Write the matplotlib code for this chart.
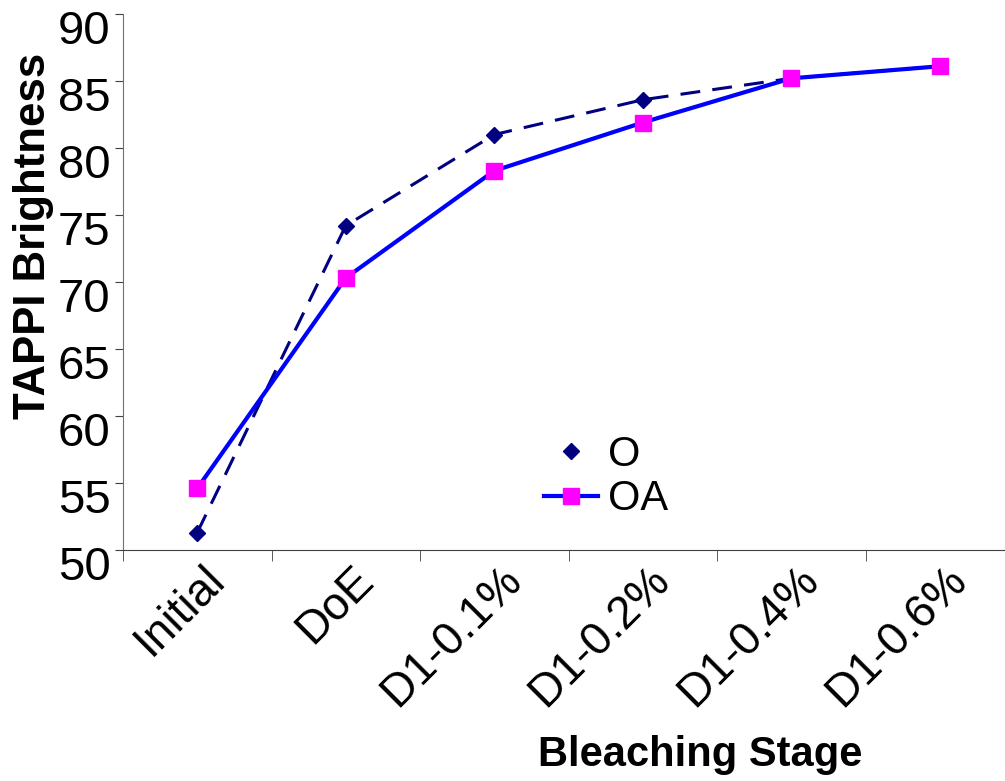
import numpy as np
import matplotlib.pyplot as plt
from matplotlib.lines import Line2D
from matplotlib.transforms import ScaledTranslation

plt.rcParams['font.family'] = ['Liberation Sans', 'DejaVu Sans']

# Data
stages = ['Initial', 'DoE', 'D1-0.1%', 'D1-0.2%', 'D1-0.4%', 'D1-0.6%']
o_vals = [51.3, 74.2, 81.0, 83.6, 85.2, 86.1]
oa_vals = [54.6, 70.3, 78.3, 81.9, 85.2, 86.1]

fig = plt.figure(figsize=(10.05, 7.81), dpi=100)
ax = fig.add_axes([123 / 1005, 1 - 550 / 781, 891 / 1005, 536 / 781])

x = np.arange(len(stages))
ax.plot(x, o_vals, color='#000080', linestyle=(0, (6.5, 4)), linewidth=2.2,
        marker='D', markersize=8, label='O')
ax.plot(x, oa_vals, color='#0000ff', linewidth=3,
        marker='s', markersize=11.5, markerfacecolor='#ff00ff',
        markeredgecolor='#ff00ff', label='OA')

ax.set_xlim(-0.5, len(stages) - 0.5)
ax.set_ylim(50, 90)
ax.set_yticks(np.arange(50, 91, 5))
ax.tick_params(axis='y', labelsize=34, length=6, direction='out', pad=3,
               color='#404040')

# category labels at centers, tick marks at boundaries
ax.set_xticks(x)
ax.set_xticklabels(stages, rotation=45, ha='right', rotation_mode='anchor', fontsize=33)
ax.tick_params(axis='x', which='major', length=0, pad=14)
ax.set_xticks(np.arange(-0.5, len(stages), 1), minor=True)
ax.tick_params(axis='x', which='minor', length=8, direction='out', color='#404040')

# nudge tick labels like the original
for lab in ax.get_yticklabels():
    lab.set_transform(lab.get_transform() + ScaledTranslation(0, -0.13, fig.dpi_scale_trans))
for lab in ax.get_xticklabels():
    lab.set_transform(lab.get_transform() + ScaledTranslation(0.05, 0.12, fig.dpi_scale_trans))

for s in ['top', 'right']:
    ax.spines[s].set_visible(False)
ax.spines['left'].set_color('#707070')
ax.spines['bottom'].set_color('#404040')

ax.set_ylabel('TAPPI Brightness', fontsize=31.5, fontweight='bold')
ax.yaxis.set_label_coords(-0.077, 0.586)
ax.set_xlabel('Bleaching Stage', fontsize=30, fontweight='bold')
ax.xaxis.set_label_coords(0.648, -0.345)

handles = [Line2D([], [], color='#000080', linestyle='none', marker='D', markersize=8),
           Line2D([], [], color='#0000ff', linewidth=3, marker='s', markersize=11.5,
                  markerfacecolor='#ff00ff', markeredgecolor='#ff00ff')]
ax.legend(handles, ['O', 'OA'], loc='center', bbox_to_anchor=(0.542, 0.136),
          frameon=False, fontsize=30, handlelength=1.3, handletextpad=0.25,
          labelspacing=0.1, borderpad=0)

fig.savefig('out.png', dpi=100)
